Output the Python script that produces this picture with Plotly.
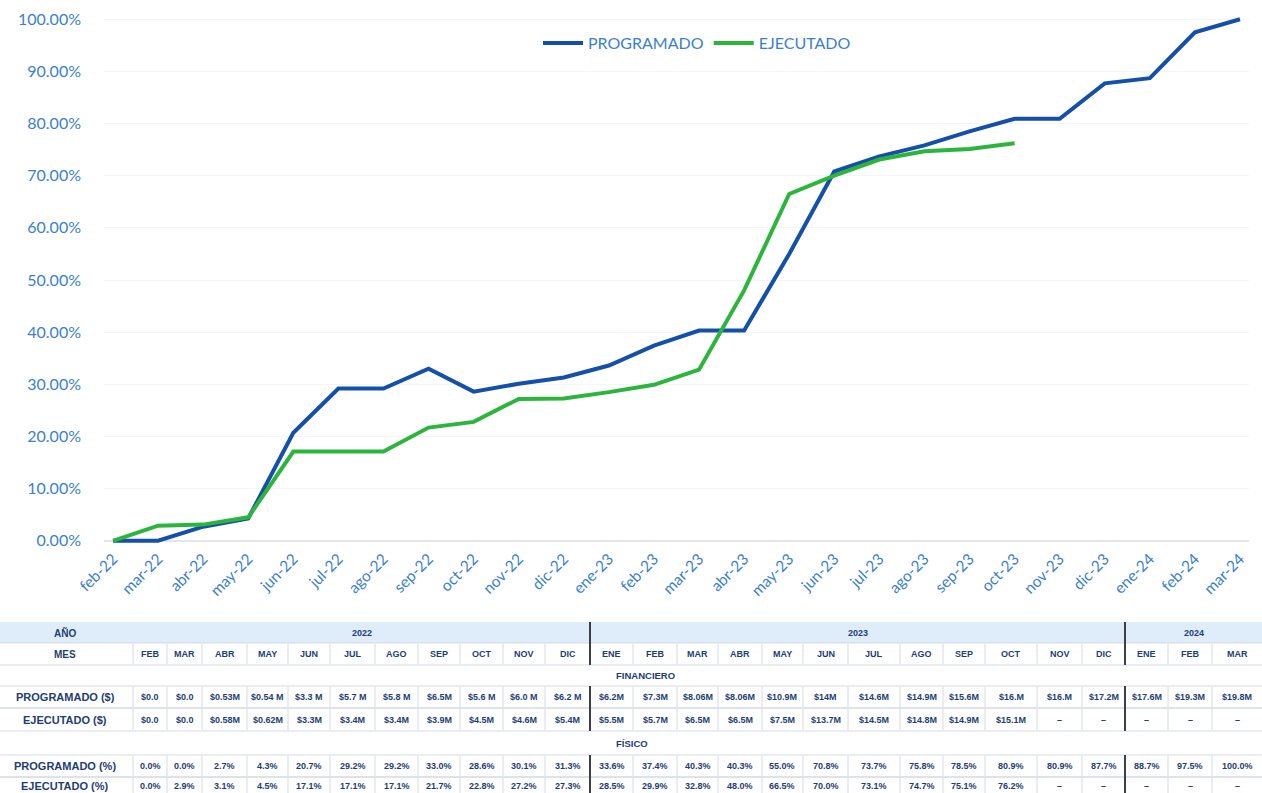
import plotly.graph_objects as go

# ---------------- data ----------------
months = ["feb-22", "mar-22", "abr-22", "may-22", "jun-22", "jul-22", "ago-22", "sep-22",
          "oct-22", "nov-22", "dic-22", "ene-23", "feb-23", "mar-23", "abr-23", "may-23",
          "jun-23", "jul-23", "ago-23", "sep-23", "oct-23", "nov-23", "dic-23", "ene-24",
          "feb-24", "mar-24"]
programado_pct = [0.0, 0.0, 2.7, 4.3, 20.7, 29.2, 29.2, 33.0, 28.6, 30.1, 31.3, 33.6, 37.4,
                  40.3, 40.3, 55.0, 70.8, 73.7, 75.8, 78.5, 80.9, 80.9, 87.7, 88.7, 97.5, 100.0]
ejecutado_pct = [0.0, 2.9, 3.1, 4.5, 17.1, 17.1, 17.1, 21.7, 22.8, 27.2, 27.3, 28.5, 29.9,
                 32.8, 48.0, 66.5, 70.0, 73.1, 74.7, 75.1, 76.2]

mes_labels = ["FEB", "MAR", "ABR", "MAY", "JUN", "JUL", "AGO", "SEP", "OCT", "NOV", "DIC",
              "ENE", "FEB", "MAR", "ABR", "MAY", "JUN", "JUL", "AGO", "SEP", "OCT", "NOV", "DIC",
              "ENE", "FEB", "MAR"]
years = ["2022", "2023", "2024"]
year_spans = [11, 12, 3]  # number of month columns per year
programado_money = ["$0.0", "$0.0", "$0.53M", "$0.54 M", "$3.3 M", "$5.7 M", "$5.8 M", "$6.5M",
                    "$5.6 M", "$6.0 M", "$6.2 M", "$6.2M", "$7.3M", "$8.06M", "$8.06M", "$10.9M",
                    "$14M", "$14.6M", "$14.9M", "$15.6M", "$16.M", "$16.M", "$17.2M", "$17.6M",
                    "$19.3M", "$19.8M"]
ejecutado_money = ["$0.0", "$0.0", "$0.58M", "$0.62M", "$3.3M", "$3.4M", "$3.4M", "$3.9M",
                   "$4.5M", "$4.6M", "$5.4M", "$5.5M", "$5.7M", "$6.5M", "$6.5M", "$7.5M",
                   "$13.7M", "$14.5M", "$14.8M", "$14.9M", "$15.1M"]

# ---------------- layout geometry ----------------
W, H = 1262, 793
L, R, T, B = 104, 13, 14, 247
PW, PH = W - L - R, H - T - B


def px2x(x):
    return (x - L) / PW


def px2y(y):
    return (T + PH - y) / PH


BLUE = "#1450aa"
GREEN = "#2cb53c"
AXIS_TXT = "#3b7fcf"
TAB_TXT = "#1f3d75"

fig = go.Figure()
fig.add_trace(go.Scatter(x=months, y=programado_pct, mode="lines", name="PROGRAMADO",
                         line=dict(color=BLUE, width=4)))
fig.add_trace(go.Scatter(x=months[:len(ejecutado_pct)], y=ejecutado_pct, mode="lines",
                         name="EJECUTADO", line=dict(color=GREEN, width=4)))

fig.update_layout(
    width=W, height=H,
    margin=dict(l=L, r=R, t=T, b=B, autoexpand=False),
    paper_bgcolor="white", plot_bgcolor="white",
    font=dict(family="Lato", color=AXIS_TXT),
    showlegend=True,
    legend=dict(orientation="h", x=px2x(697), xanchor="center", y=px2y(43), yanchor="middle",
                font=dict(size=16, color=AXIS_TXT, family="Lato"), bgcolor="rgba(0,0,0,0)",
                itemwidth=40, tracegroupgap=0),
    xaxis=dict(type="category", range=[-0.2, 25.2], tickangle=-45, showgrid=False,
               showline=False, zeroline=False, ticks="",
               tickfont=dict(size=15.5, color=AXIS_TXT, family="Lato")),
    yaxis=dict(range=[-1, 101], dtick=10, tick0=0, tickformat=".2f", ticksuffix="%",
               showgrid=True, gridcolor="#f5f5f5", zeroline=True, zerolinecolor="#e6e6e6",
               showline=False, ticks="", ticklabelstandoff=22,
               tickfont=dict(size=16, color=AXIS_TXT, family="Lato")),
)

# ---------------- table ----------------
col_edges = [133, 167, 202, 247, 288, 330, 375, 418, 460, 503, 545, 590, 633, 677, 718, 762,
             803, 848, 900, 943, 985, 1037, 1082, 1125, 1168, 1212, 1262]
centers = [(col_edges[i] + col_edges[i + 1]) / 2 for i in range(len(col_edges) - 1)]
row_edges = {"ano": (622, 643), "mes": (643, 665), "fin": (665, 686), "p$": (686, 708),
             "e$": (708, 731), "fis": (731, 755), "p%": (755, 777), "e%": (777, 800)}

shapes = []
annots = []


def ann(x, y, text, size=9, color=TAB_TXT):
    annots.append(dict(x=px2x(x), y=px2y(y), xref="paper", yref="paper", text="<b>" + text + "</b>",
                       showarrow=False, xanchor="center", yanchor="middle",
                       font=dict(family="Liberation Sans", size=size, color=color)))


def hline(y, x0, x1, color="#d3d9e3", width=1):
    shapes.append(dict(type="line", xref="paper", yref="paper", x0=px2x(x0), x1=px2x(x1),
                       y0=px2y(y), y1=px2y(y), line=dict(color=color, width=width)))


def vline(x, y0, y1, color="#d3d9e3", width=1):
    shapes.append(dict(type="line", xref="paper", yref="paper", x0=px2x(x), x1=px2x(x),
                       y0=px2y(y0), y1=px2y(y1), line=dict(color=color, width=width)))


# year band background
shapes.append(dict(type="rect", xref="paper", yref="paper", x0=px2x(0), x1=px2x(W),
                   y0=px2y(row_edges["ano"][1]), y1=px2y(row_edges["ano"][0]),
                   fillcolor="#deedf9", line=dict(width=0), layer="below"))

# horizontal lines
for key in ["mes", "p$", "e$", "p%", "e%"]:
    y0, y1 = row_edges[key]
    hline(y0, 0, W)
    hline(y1, 0, W)

# thin vertical lines in month/data rows
for key in ["mes", "p$", "e$", "p%", "e%"]:
    y0, y1 = row_edges[key]
    for x in col_edges[:-1]:
        vline(x, y0 + 1, y1 - 1)

# thick year separators
sep_cols = [year_spans[0], year_spans[0] + year_spans[1]]
for c in sep_cols:
    x = col_edges[c]
    for a, b in [("ano", "mes"), ("p$", "e$"), ("p%", "e%")]:
        vline(x, row_edges[a][0], row_edges[b][1], color="#3a3f48", width=2)

# labels column
label_x = 65
ann(label_x, sum(row_edges["ano"]) / 2, "AÑO", size=10)
ann(label_x, sum(row_edges["mes"]) / 2, "MES", size=10)
ann(label_x, sum(row_edges["p$"]) / 2, "PROGRAMADO ($)", size=11)
ann(label_x, sum(row_edges["e$"]) / 2, "EJECUTADO ($)", size=11)
ann(label_x, sum(row_edges["p%"]) / 2, "PROGRAMADO (%)", size=11)
ann(label_x, 786, "EJECUTADO (%)", size=11)

# years
start = 0
for yr, span in zip(years, year_spans):
    xc = (col_edges[start] + col_edges[start + span]) / 2
    ann(xc, sum(row_edges["ano"]) / 2, yr)
    start += span

# section titles
ann(645, sum(row_edges["fin"]) / 2, "FINANCIERO", size=9.5)
ann(632, sum(row_edges["fis"]) / 2, "FÍSICO", size=9.5)

# values
for i, xc in enumerate(centers):
    ann(xc, sum(row_edges["mes"]) / 2, mes_labels[i])
    ann(xc, sum(row_edges["p$"]) / 2, programado_money[i])
    ann(xc, sum(row_edges["e$"]) / 2, ejecutado_money[i] if i < len(ejecutado_money) else "–")
    ann(xc, sum(row_edges["p%"]) / 2, f"{programado_pct[i]:.1f}%")
    ann(xc, 786, f"{ejecutado_pct[i]:.1f}%" if i < len(ejecutado_pct) else "–")

fig.update_layout(shapes=shapes, annotations=annots)
fig.write_html("out.html", config={"displayModeBar": False},
               post_script="document.body.style.margin='0';")
